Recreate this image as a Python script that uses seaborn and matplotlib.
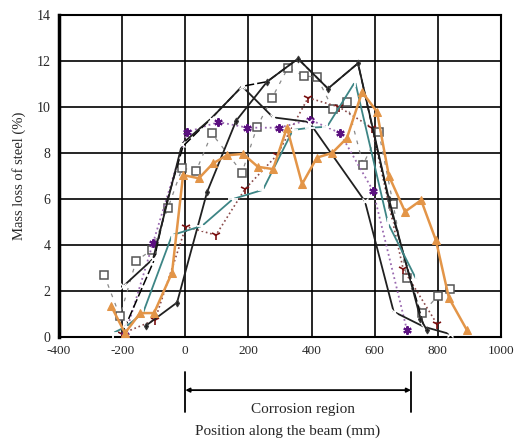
import matplotlib
matplotlib.use("Agg")
import matplotlib.pyplot as plt
import matplotlib.transforms as mtransforms
import seaborn as sns
import pandas as pd

# ---- data ----
a_x = [-197, -102, -10, 82, 180, 278, 392, 569, 660, 755, 838]
a_y = [2.2, 3.4, 8.4, 9.5, 10.9, 9.55, 9.35, 5.9, 1.1, 0.45, 0.13]

b_x = [-124, -26, 69, 161, 259, 357, 452, 547, 645, 745, 765]
b_y = [0.5, 1.5, 6.3, 9.4, 11.1, 12.1, 10.8, 11.9, 6.0, 0.8, 0.3]

c_x = [-195, -100, -58, -7, 82, 180, 259, 357, 452, 547, 650, 755]
c_y = [0.3, 3.3, 5.9, 8.3, 9.5, 10.9, 11.1, 12.1, 10.8, 11.9, 5.6, 0.5]

s_x = [-257, -207, -156, -105, -55, -10, 34, 84, 180, 227, 275, 325, 376, 417,
       468, 512, 563, 613, 658, 702, 750, 800, 838]
s_y = [2.7, 0.9, 3.3, 3.8, 5.6, 7.35, 7.2, 8.85, 7.15, 9.13, 10.4, 11.7, 11.35,
       11.3, 9.9, 10.2, 7.5, 8.9, 5.8, 2.56, 1.04, 1.78, 2.1]

p_x = [-190, -102, 5, 104, 197, 297, 395, 490, 595, 702]
p_y = [0.1, 4.1, 8.9, 9.35, 9.1, 9.1, 9.45, 8.87, 6.35, 0.3]

o_x = [-235, -191, -143, -99, -42, -7, 43, 88, 132, 183, 230, 278, 322, 370,
       417, 465, 512, 560, 607, 645, 696, 747, 794, 835, 892]
o_y = [1.35, 0.17, 1.04, 1.04, 2.8, 7.04, 6.9, 7.55, 7.9, 7.96, 7.4, 7.3, 9.1,
       6.65, 7.8, 8.0, 8.65, 10.65, 9.8, 7.0, 5.45, 5.95, 4.2, 1.7, 0.3]

t_x = [-229, -188, -134, -42, 53, 151, 246, 341, 395, 449, 538, 642, 732]
t_y = [0.17, 0.45, 1.04, 4.43, 4.83, 6.0, 6.4, 9.0, 9.1, 9.14, 11.1, 4.95, 2.5]

m_x = [-200, -96, 2, 97, 189, 290, 389, 487, 591, 690, 797]
m_y = [0.15, 0.74, 4.8, 4.43, 6.43, 7.9, 10.4, 10.0, 9.1, 2.96, 0.57]

x_ticks = [-400, -200, 0, 200, 400, 600, 800, 1000]
y_ticks = [0, 2, 4, 6, 8, 10, 12, 14]
region = [0, 715]

sns.set_style("white")
plt.rcParams['font.family'] = ['Liberation Serif', 'DejaVu Serif']

fig = plt.figure(figsize=(5.18, 4.42), dpi=100)
ax = fig.add_axes([59/518, 105/442, 442/518, 322/442])

def draw(x, y, **kw):
    df = pd.DataFrame({"x": x, "y": y})
    sns.lineplot(data=df, x="x", y="y", ax=ax, sort=False, estimator=None, **kw)

draw(s_x, s_y, color="#8a8a8a", lw=0.9, linestyle=(0, (3, 5)), marker="s",
     markersize=5.8, markerfacecolor="white", markeredgecolor="#555555",
     markeredgewidth=1.1, zorder=3)
draw(m_x, m_y, color="#8a4a4a", lw=1.2, linestyle=":", marker="1",
     markersize=7, markeredgecolor="#7a1010", markeredgewidth=1.2, zorder=4)
draw(p_x, p_y, color="#9a6ab0", lw=1.3, linestyle=":", marker=(6, 2, 0),
     markersize=6, markeredgecolor="#5b1080", markeredgewidth=1.5, zorder=4)
draw(c_x, c_y, color="black", lw=1.1, linestyle=(0, (6, 2)), zorder=4)
draw(a_x, a_y, color="#202020", lw=1.3, marker="x", markersize=4,
     markeredgewidth=1.0, zorder=5)
draw(b_x, b_y, color="#202020", lw=1.3, marker="d", markersize=3.5,
     markeredgecolor="#404040", zorder=5)
draw(t_x, t_y, color="#3d8585", lw=1.3, marker="+", markersize=7.5,
     markeredgewidth=1.3, zorder=6)
draw(o_x, o_y, color="#e39548", lw=1.8, marker="^", markersize=6,
     markeredgecolor="#e39548", zorder=7)

ax.set_xlim(-400, 1000)
ax.set_ylim(0, 14)
ax.set_xticks(x_ticks)
ax.set_yticks(y_ticks)
ax.set_xticklabels([str(v) for v in x_ticks], fontsize=9.5)
ax.set_yticklabels([str(v) for v in y_ticks], fontsize=10)
ax.tick_params(length=0, pad=6)
ax.grid(True, color="black", lw=1.2)
ax.set_axisbelow(True)
for sp in ax.spines.values():
    sp.set_color("black")
    sp.set_linewidth(1.5)
ax.spines["left"].set_linewidth(2.5)
ax.set_xlabel("")
ax.set_ylabel("Mass loss of steel (%)", fontsize=10.5, labelpad=8)

trans = mtransforms.blended_transform_factory(ax.transData, ax.transAxes)
for xv in region:
    ax.plot([xv, xv], [-0.109, -0.233], transform=trans, color="black",
            lw=1.3, clip_on=False)
ax.annotate("", xy=(region[0], -0.165), xytext=(region[1], -0.165),
            xycoords=trans, textcoords=trans,
            arrowprops=dict(arrowstyle="<|-|>", color="black", lw=1.3,
                            mutation_scale=6, shrinkA=0, shrinkB=0))
ax.text(373, -0.226, "Corrosion region", transform=trans, ha="center",
        va="center", fontsize=11)
ax.text(325, -0.292, "Position along the beam (mm)", transform=trans,
        ha="center", va="center", fontsize=11)

fig.savefig("out.png", dpi=100)
